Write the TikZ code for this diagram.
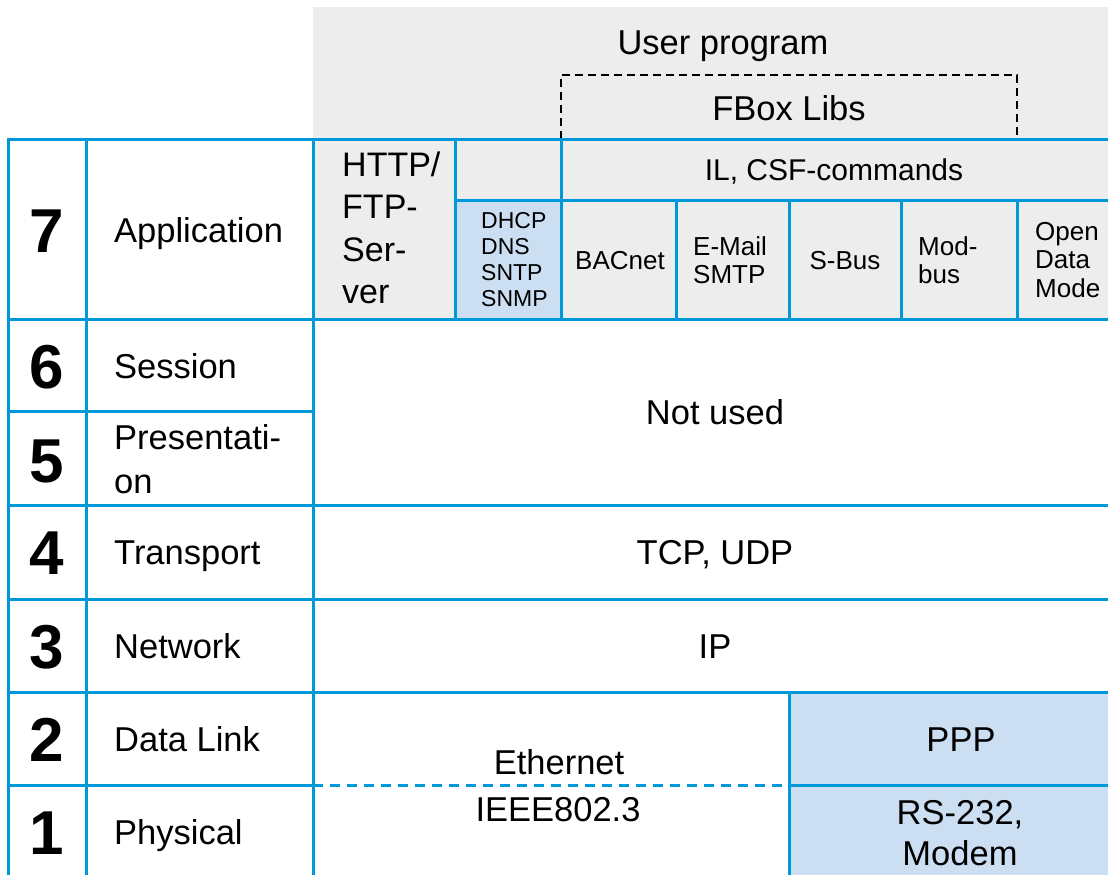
\documentclass[tikz,border=0pt]{standalone}
\usepackage{fontspec}
\setmainfont{Liberation Sans}
\definecolor{lineblue}{RGB}{0,152,216}
\definecolor{graybg}{RGB}{237,237,237}
\definecolor{lightblue}{RGB}{204,222,242}
\begin{document}
\begin{tikzpicture}[x=1pt,y=-1pt,
  gridline/.style={draw=lineblue, line width=3pt, line cap=rect},
  dashline/.style={draw=lineblue, line width=3pt, dash pattern=on 10pt off 7pt},
  libbox/.style={draw=black, line width=2.4pt, dash pattern=on 8pt off 5pt},
  txt/.style={inner sep=0pt, font=\fontsize{34.5}{40}\selectfont},
  one/.style={txt, text height=24.8pt, text depth=0pt},
  iltxt/.style={inner sep=0pt, text height=21.6pt, text depth=0pt, font=\fontsize{30}{36}\selectfont},
  midtxt/.style={inner sep=0pt, font=\fontsize{34}{42.5}\selectfont},
  smalltxt/.style={inner sep=0pt, font=\fontsize{26}{28.5}\selectfont},
  smallone/.style={smalltxt, text height=18.7pt, text depth=0pt},
  tinytxt/.style={inner sep=0pt, font=\fontsize{23}{26}\selectfont},
  digit/.style={inner sep=0pt, text height=44.6pt, text depth=0pt, font=\fontsize{62}{62}\selectfont\bfseries},
  layer/.style={one, anchor=west}
]
\useasboundingbox (0,0) rectangle (1108,875);
% fills
\fill[graybg] (313,7) rectangle (1108,319);
\fill[lightblue] (455,200) rectangle (561,319);
\fill[lightblue] (789,692) rectangle (1108,875);
% FBox Libs dashed box
\draw[libbox] (561,139) -- (561,75) -- (1017,75) -- (1017,139);
% horizontal lines
\draw[gridline] (8,139) -- (1108,139);
\draw[gridline] (455,200) -- (1108,200);
\draw[gridline] (8,319) -- (1108,319);
\draw[gridline] (8,411) -- (313,411);
\draw[gridline] (8,505) -- (1108,505);
\draw[gridline] (8,599) -- (1108,599);
\draw[gridline] (8,692) -- (1108,692);
\draw[gridline] (8,785) -- (313,785);
\draw[dashline] (313,785) -- (789,785);
\draw[gridline] (789,785) -- (1108,785);
% vertical lines
\draw[gridline] (8,139) -- (8,877);
\draw[gridline] (86,139) -- (86,877);
\draw[gridline] (313,139) -- (313,877);
\draw[gridline] (455,139) -- (455,319);
\draw[gridline] (561,139) -- (561,319);
\draw[gridline] (676,200) -- (676,319);
\draw[gridline] (789,200) -- (789,319);
\draw[gridline] (901,200) -- (901,319);
\draw[gridline] (1017,200) -- (1017,319);
\draw[gridline] (789,692) -- (789,877);
% top texts
\node[one] (user) at (723,42) {User program};
\node[one] (fbox) at (789,108) {FBox Libs};
\node[iltxt] (il) at (834,170) {IL, CSF-commands};
% row 7 cells
\node[midtxt, anchor=west, align=left] (http) at (342,228) {HTTP/\\FTP-\\Ser-\\ver};
\node[tinytxt, anchor=west, align=left] (dhcp) at (481,260) {DHCP\\DNS\\SNTP\\SNMP};
\node[smallone] (bacnet) at (620,260) {BACnet};
\node[smalltxt, anchor=west, align=left] (email) at (693,260) {E-Mail\\SMTP};
\node[smallone] (sbus) at (845,260) {S-Bus};
\node[smalltxt, anchor=west, align=left] (modbus) at (918,260) {Mod-\\bus};
\node[smalltxt, anchor=west, align=left] (open) at (1035,260) {Open\\Data\\Mode};
% layer numbers
\node[digit] (d7) at (47,230) {7};
\node[digit] (d6) at (47,366) {6};
\node[digit] (d5) at (47,460) {5};
\node[digit] (d4) at (47,552) {4};
\node[digit] (d3) at (47,646) {3};
\node[digit] (d2) at (47,739) {2};
\node[digit] (d1) at (47,832) {1};
% layer names
\node[layer] (app) at (114,230) {Application};
\node[layer] (sess) at (114,366) {Session};
\node[txt, anchor=west, align=left, font=\fontsize{34.5}{44}\selectfont] (pres) at (114,459) {Presentati-\\on};
\node[layer] (trans) at (114,552) {Transport};
\node[layer] (net) at (114,646) {Network};
\node[layer] (dl) at (114,739) {Data Link};
\node[layer] (phys) at (114,832) {Physical};
% protocol texts
\node[one] (notused) at (715,412) {Not used};
\node[one] (tcp) at (715,552) {TCP, UDP};
\node[one] (ip) at (715,646) {IP};
\node[one] (eth) at (559,762) {Ethernet};
\node[one] (ieee) at (558,809) {IEEE802.3};
\node[one] (ppp) at (961,739) {PPP};
\node[txt, align=center, font=\fontsize{34.5}{41}\selectfont] (rs) at (960,833) {RS-232,\\Modem};
\end{tikzpicture}
\end{document}
